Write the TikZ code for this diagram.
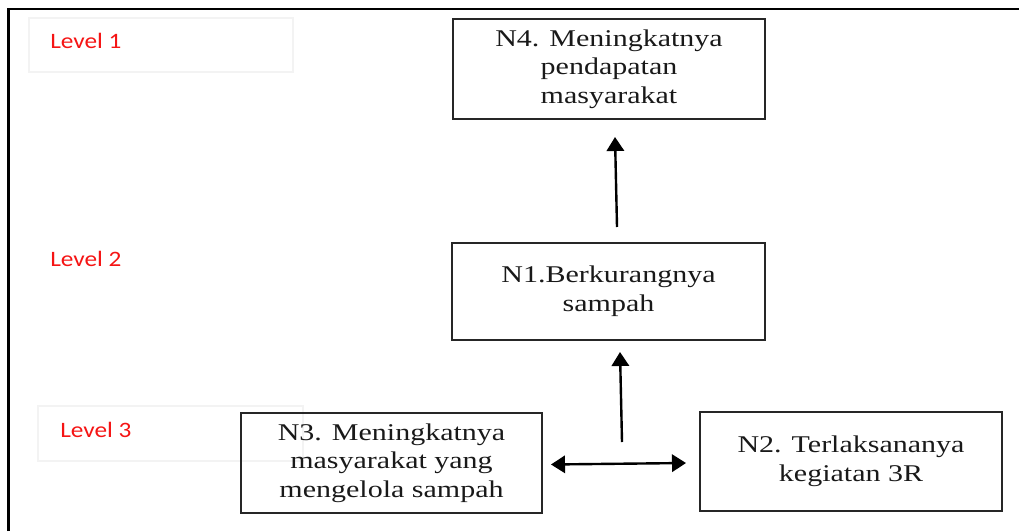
\documentclass[tikz,border=0pt]{standalone}
\usepackage{fontspec}
\setmainfont{Liberation Serif}
\newfontfamily\boxfont[FakeStretch=1.25]{Liberation Serif}
\newfontfamily\lvlfont[FakeStretch=1.15]{Carlito}
\usetikzlibrary{arrows.meta}
\definecolor{lvlred}{RGB}{245,20,20}
\definecolor{faint}{RGB}{243,243,243}
\tikzset{
  box/.style={draw=black!85, line width=1.3pt, align=center, inner sep=0pt,
    font=\boxfont\fontsize{18}{21.5}\selectfont, text=black!90},
  lvl/.style={anchor=west, inner sep=0pt, text=lvlred,
    font=\lvlfont\fontsize{16.5}{18}\selectfont},
  faintbox/.style={draw=faint, line width=0.8pt},
  arr/.style={line width=1.8pt, -{Triangle[length=10.5pt,width=13pt]}},
  darr/.style={line width=1.8pt, {Triangle[length=10.5pt,width=13pt]}-{Triangle[length=10.5pt,width=13pt]}}
}
\begin{document}
\begin{tikzpicture}[x=0.75pt,y=-0.75pt]
\useasboundingbox (0,0) rectangle (1019,531);
% frame
\draw[line width=2pt] (8.5,531) -- (8.5,9) -- (1019,9);
% faint label boxes
\draw[faintbox] (29,18) rectangle (293,72);
\draw[faintbox] (38,406) rectangle (303,461);
% level labels
\node[lvl] (l1) at (50,41) {Level 1};
\node[lvl] (l2) at (50,259) {Level 2};
\node[lvl] (l3) at (60,430) {Level 3};
% boxes
\node[box, minimum width=234pt, minimum height=75pt] (n4) at (609,69)
  {N4. Meningkatnya\\pendapatan\\masyarakat};
\node[box, minimum width=234.5pt, minimum height=72.5pt] (n1) at (608.5,291.5)
  {N1.Berkurangnya\\sampah};
\node[box, minimum width=225.5pt, minimum height=75pt] (n3) at (391.5,463)
  {N3. Meningkatnya\\masyarakat yang\\mengelola sampah};
\node[box, minimum width=226.5pt, minimum height=74pt] (n2) at (851,461.5)
  {N2. Terlaksananya\\kegiatan 3R};
% connector coordinates
\coordinate (a1s) at (617,227);
\coordinate (a1e) at (615,137);
\coordinate (a2s) at (622,442);
\coordinate (a2e) at (620,352);
\coordinate (d1) at (551,464.5);
\coordinate (d2) at (686,463);
\draw[arr] (a1s) -- (a1e);
\draw[arr] (a2s) -- (a2e);
\draw[darr] (d1) -- (d2);
\end{tikzpicture}
\end{document}
